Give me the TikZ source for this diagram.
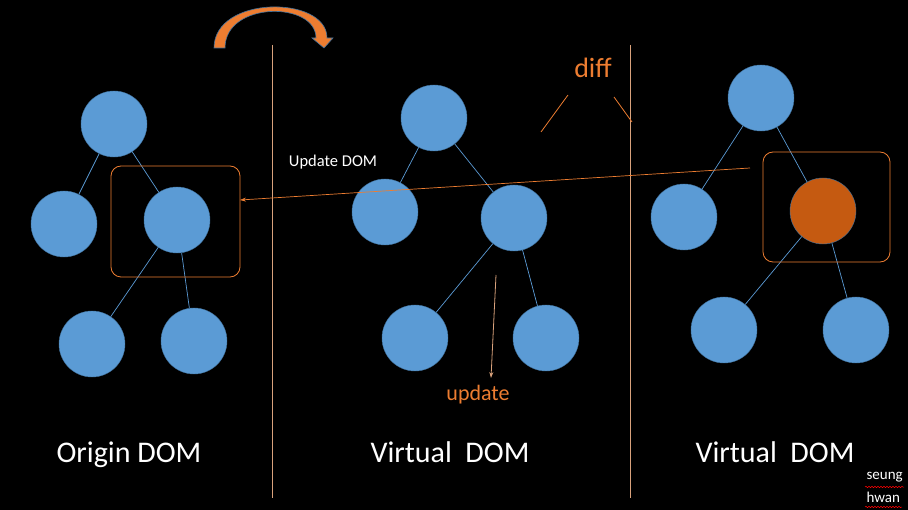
\documentclass[tikz,border=0pt]{standalone}
\usepackage{fontspec}
\setmainfont{Carlito}
\usetikzlibrary{arrows.meta,positioning,decorations.pathmorphing}

\definecolor{domblue}{HTML}{5B9BD5}
\definecolor{domedge}{HTML}{41719C}
\definecolor{domorange}{HTML}{ED7D31}
\definecolor{domdark}{HTML}{C55A11}
\definecolor{domtan}{HTML}{D9A27C}

\begin{document}
\begin{tikzpicture}[
    x=1pt, y=-1pt,
    dom/.style={circle, draw=domedge, fill=domblue, minimum size=66pt, inner sep=0pt},
    link/.style={draw=domblue, line width=0.7pt},
    frame/.style={draw=domorange, rounded corners=10pt, line width=0.8pt},
    title/.style={text=white, anchor=base, font=\fontsize{30}{34}\selectfont},
    note/.style={text=domorange},
    arrow/.style={-{Stealth[length=6pt,width=4pt]}, draw=domorange, line width=0.7pt}
]

\fill[black] (0,0) rectangle (908,510);
\useasboundingbox (0,0) rectangle (908,510);

% separators
\draw[domtan, line width=1pt] (272,45) -- (272,498);
\draw[domtan, line width=1pt] (630,45) -- (630,498);

% origin DOM
\node[dom] (o1) at (114,124) {};
\node[dom] (o2) at (64,224) {};
\node[dom] (o3) at (177,220) {};
\node[dom] (o4) at (92,344) {};
\node[dom] (o5) at (194,341) {};
\draw[link] (o1) -- (o2);
\draw[link] (o1) -- (o3);
\draw[link] (o3) -- (o4);
\draw[link] (o3) -- (o5);
\draw[frame] (111,166) rectangle (240,277);
\coordinate (box1) at (240,200);

% virtual DOM
\node[dom] (v1) at (434,118) {};
\node[dom] (v2) at (385,212) {};
\node[dom] (v3) at (514,218) {};
\node[dom] (v4) at (415,338) {};
\node[dom] (v5) at (546,338) {};
\draw[link] (v1) -- (v2);
\draw[link] (v1) -- (v3);
\draw[link] (v3) -- (v4);
\draw[link] (v3) -- (v5);

% new virtual DOM
\node[dom] (n1) at (761,98) {};
\node[dom] (n2) at (684,217) {};
\node[dom, fill=domdark] (n3) at (823,211) {};
\node[dom] (n4) at (724,330) {};
\node[dom] (n5) at (856,330) {};
\draw[link] (n1) -- (n2);
\draw[link] (n1) -- (n3);
\draw[link] (n3) -- (n4);
\draw[link] (n3) -- (n5);
\draw[frame] (763,152) rectangle (890,262);
\coordinate (box3) at (750,168);

% update DOM
\draw[arrow] (box3) -- (box1);
\node[text=white, font=\fontsize{16.5}{19}\selectfont] (updom) at (333,162) {Update DOM};

% update
\coordinate (upstart) at (496,275);
\node[note, font=\fontsize{22}{26}\selectfont] (upd) at (478,395) {update};
\draw[-{Stealth[length=6pt,width=4pt]}, draw=domtan, line width=0.8pt] (upstart) -- (491,378);

% diff
\node[note, font=\fontsize{28}{32}\selectfont] (diff) at (593,68) {diff};
\draw[domorange, line width=0.8pt] (568,95) -- (541,132);
\draw[domorange, line width=0.8pt] (614,97) -- (632,122);

% curved arrow
\filldraw[fill=domorange, draw=domedge, line width=0.6pt]
  (214,48) -- (225,48) .. controls (225,1) and (316,1) .. (316,38)
  -- (312,38) -- (324,48) -- (333,38) -- (327,38)
  .. controls (327,-5) and (214,-5) .. (214,48) -- cycle;

% titles
\node[title] (t1) at (129,463) {Origin DOM};
\node[title] (t2) at (450,463) {Virtual\ \ DOM};
\node[title] (t3) at (775,463) {Virtual\ \ DOM};

% signature
\node[text=white, font=\fontsize{15}{17}\selectfont, anchor=west] (s1) at (863,477) {seung};
\node[text=white, font=\fontsize{15}{17}\selectfont, anchor=west] (s2) at (863,497) {hwan};
\draw[red, line width=0.5pt, decorate, decoration={snake, amplitude=0.7pt, segment length=3pt}] (865,487) -- (904,487);
\draw[red, line width=0.5pt, decorate, decoration={snake, amplitude=0.7pt, segment length=3pt}] (865,507) -- (902,507);

\end{tikzpicture}
\end{document}
